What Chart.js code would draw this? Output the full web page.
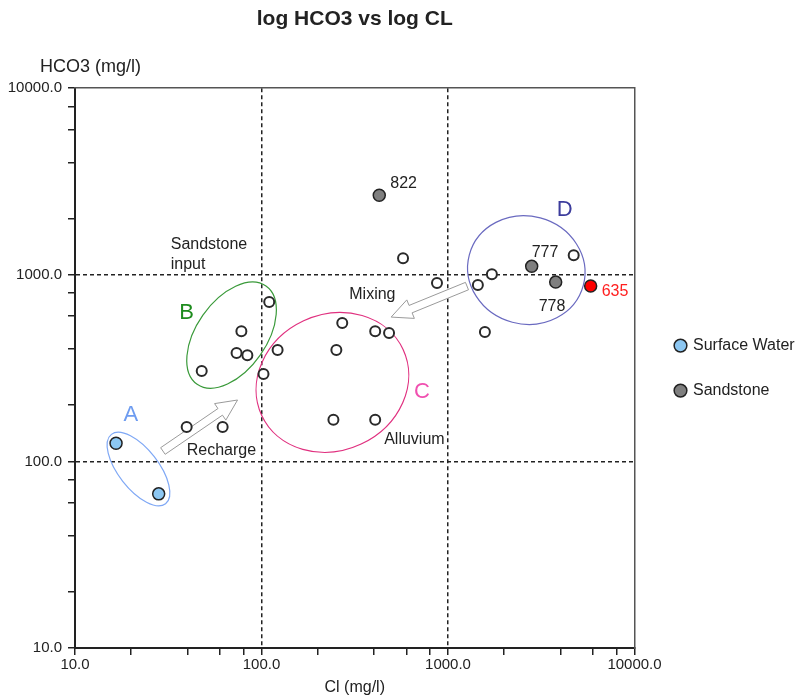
<!DOCTYPE html>
<html><head><meta charset="utf-8">
<script src="https://cdn.jsdelivr.net/npm/chart.js@4.4.1/dist/chart.umd.min.js"></script>
<style>html,body{margin:0;padding:0;background:#fff}#wrap{width:799px;height:697px}</style>
</head><body><div id="wrap"><canvas id="c" width="799" height="697"></canvas></div>
<script>
// ---------- data ----------
const chartTitle = 'log HCO3 vs log CL';
const xAxisTitle = 'Cl (mg/l)';
const yAxisTitle = 'HCO3 (mg/l)';
const axisTicks = [10,20,40,60,80,100,200,400,600,800,1000,2000,4000,6000,8000,10000];
const labelledTicks = [10,100,1000,10000];
const gridTicks = [100,1000];

const surfaceCl = [16.6, 28.1];
const surfaceHCO3 = [125, 67];
const sandstoneCl = [428, 2810, 3780];
const sandstoneHCO3 = [2670, 1110, 914];
const sandstoneIds = ['822', '777', '778'];
const highlightCl = [5820];
const highlightHCO3 = [870];
const highlightIds = ['635'];
const otherCl = [110, 78, 73.5, 84, 47.8, 122, 102.5, 39.7, 61.9, 271, 407, 483, 252, 243, 407, 574, 873, 1446, 1719, 4720, 1577];
const otherHCO3 = [714, 499, 381, 371, 305, 395, 294, 153, 153, 551, 499, 487, 395, 167, 167, 1228, 903, 881, 1008, 1274, 493];

// ---------- annotations (data-space anchors) ----------
const ellipses = [
  {cl: 21.9, hco3: 91,  rx: 44, ry: 20, rot: 52,  color: '#7FA8F5'},
  {cl: 69.1, hco3: 475, rx: 60, ry: 35, rot: -55, color: '#3A9A3A'},
  {cl: 240,  hco3: 265, rx: 78, ry: 68, rot: -25, color: '#E0307F'},
  {cl: 2630, hco3: 1060, rx: 59, ry: 54, rot: 15, color: '#6A6AC0'}
];
const groupLabels = [
  {text: 'A', cl: 19.9, hco3: 177, color: '#6E9CF0'},
  {text: 'B', cl: 39.7, hco3: 623, color: '#1E8C1E'},
  {text: 'C', cl: 726,  hco3: 235, color: '#F050B0'},
  {text: 'D', cl: 4224, hco3: 2221, color: '#3C3C9C'}
];
const notes = [
  {text: 'Sandstone', cl: 32.6, hco3: 1460},
  {text: 'input', cl: 32.6, hco3: 1141},
  {text: 'Mixing', cl: 295.5, hco3: 788},
  {text: 'Recharge', cl: 39.7, hco3: 113.7},
  {text: 'Alluvium', cl: 454.8, hco3: 130.2}
];
const idOffsets = {'822': [11, -12], '777': [0, -14], '778': [-17, 25], '635': [11, 6]};
const arrows = [
  {from: [29.6, 113.7], to: [74.4, 213.3]},
  {from: [1264, 870], to: [495.6, 593.5]}
];

const FONT = "'Liberation Sans', Arial, Helvetica, sans-serif";
Chart.defaults.font.family = FONT;
Chart.defaults.color = '#222';

const pts = (xs, ys) => xs.map((x, i) => ({x: x, y: ys[i]}));

const annotationPlugin = {
  id: 'annot',
  beforeDatasetsDraw(chart) {
    const {ctx, scales: {x, y}} = chart;
    ctx.save();
    ellipses.forEach(e => {
      ctx.beginPath();
      ctx.ellipse(x.getPixelForValue(e.cl), y.getPixelForValue(e.hco3), e.rx, e.ry, e.rot * Math.PI / 180, 0, Math.PI * 2);
      ctx.strokeStyle = e.color;
      ctx.lineWidth = 1.2;
      ctx.stroke();
    });
    arrows.forEach(a => {
      const x0 = x.getPixelForValue(a.from[0]), y0 = y.getPixelForValue(a.from[1]);
      const x1 = x.getPixelForValue(a.to[0]), y1 = y.getPixelForValue(a.to[1]);
      const L = Math.hypot(x1 - x0, y1 - y0);
      const ux = (x1 - x0) / L, uy = (y1 - y0) / L, nx = -uy, ny = ux;
      const sw = 4, hw = 10, hl = 21;
      const bx = x1 - ux * hl, by = y1 - uy * hl;
      const poly = [
        [x0 + nx * sw, y0 + ny * sw], [bx + nx * sw, by + ny * sw], [bx + nx * hw, by + ny * hw],
        [x1, y1],
        [bx - nx * hw, by - ny * hw], [bx - nx * sw, by - ny * sw], [x0 - nx * sw, y0 - ny * sw]
      ];
      ctx.beginPath();
      poly.forEach((p, i) => i ? ctx.lineTo(p[0], p[1]) : ctx.moveTo(p[0], p[1]));
      ctx.closePath();
      ctx.fillStyle = '#fff';
      ctx.fill();
      ctx.strokeStyle = '#9a9a9a';
      ctx.lineWidth = 1;
      ctx.stroke();
    });
    ctx.restore();
  },
  afterDatasetsDraw(chart) {
    const {ctx, scales: {x, y}} = chart;
    ctx.save();
    ctx.textBaseline = 'middle';
    ctx.textAlign = 'center';
    ctx.font = '22px ' + FONT;
    groupLabels.forEach(g => {
      ctx.fillStyle = g.color;
      ctx.fillText(g.text, x.getPixelForValue(g.cl), y.getPixelForValue(g.hco3));
    });
    ctx.textAlign = 'left';
    ctx.font = '16px ' + FONT;
    ctx.fillStyle = '#222';
    notes.forEach(n => ctx.fillText(n.text, x.getPixelForValue(n.cl), y.getPixelForValue(n.hco3)));
    const idLabel = (cls, hs, ids, color) => ids.forEach((id, i) => {
      const o = idOffsets[id];
      ctx.fillStyle = color;
      ctx.fillText(id, x.getPixelForValue(cls[i]) + o[0], y.getPixelForValue(hs[i]) + o[1]);
    });
    idLabel(sandstoneCl, sandstoneHCO3, sandstoneIds, '#222');
    idLabel(highlightCl, highlightHCO3, highlightIds, '#FF2020');
    ctx.restore();
  },
  afterDraw(chart) {
    const {ctx} = chart;
    ctx.save();
    ctx.font = '18px ' + FONT;
    ctx.fillStyle = '#222';
    ctx.textBaseline = 'middle';
    ctx.textAlign = 'left';
    ctx.fillText(yAxisTitle, 40, 67);
    ctx.restore();
  }
};

const tickLabel = v => labelledTicks.includes(v) ? Number(v).toFixed(1) : '';
const gridColor = c => (c.tick && gridTicks.includes(c.tick.value)) ? '#222' : 'rgba(0,0,0,0)';

const mainAxis = (extra, pad) => Object.assign({
  type: 'logarithmic', min: 10, max: 10000,
  afterBuildTicks: s => { s.ticks = axisTicks.map(v => ({value: v})); },
  ticks: {callback: tickLabel, autoSkip: false, maxRotation: 0, font: {size: 15}, color: '#222', padding: pad},
  grid: {color: gridColor, lineWidth: 1.5, tickColor: '#222', tickLength: 7, tickWidth: 1.5, tickBorderDash: []},
  border: {display: true, color: '#222', width: 2, dash: [4, 3]}
}, extra);

const frameAxis = (pos, fit) => ({
  type: 'logarithmic', min: 10, max: 10000, position: pos, display: true,
  ticks: {display: false},
  grid: {drawOnChartArea: false, drawTicks: false},
  border: {display: true, color: '#555', width: 1.5},
  afterFit: fit
});

new Chart(document.getElementById('c'), {
  type: 'scatter',
  data: {
    datasets: [
      {label: 'Alluvium', data: pts(otherCl, otherHCO3), pointRadius: 5, pointHoverRadius: 5,
        backgroundColor: '#fff', borderColor: '#2a2a2a', borderWidth: 2},
      {label: 'Surface Water', data: pts(surfaceCl, surfaceHCO3), pointRadius: 6, pointHoverRadius: 6,
        backgroundColor: '#8CC7F2', borderColor: '#222', borderWidth: 1.5},
      {label: 'Sandstone', data: pts(sandstoneCl, sandstoneHCO3), pointRadius: 6, pointHoverRadius: 6,
        backgroundColor: '#7F7F7F', borderColor: '#222', borderWidth: 1.5},
      {label: '635', data: pts(highlightCl, highlightHCO3), pointRadius: 6, pointHoverRadius: 6,
        backgroundColor: '#FF0000', borderColor: '#222', borderWidth: 1.5}
    ]
  },
  options: {
    responsive: false,
    animation: false,
    devicePixelRatio: 1,
    layout: {padding: {left: 0, right: 0, top: 0, bottom: 0}},
    scales: {
      x: mainAxis({position: 'bottom',
        title: {display: true, text: xAxisTitle, font: {size: 16}, color: '#222', padding: {top: 2, bottom: 0}},
        afterFit: s => { s.height = 49; }}, 1),
      y: mainAxis({position: 'left', afterFit: s => { s.width = 75; }}, 6),
      x2: frameAxis('top', s => { s.height = 0; }),
      y2: frameAxis('right', s => { s.width = 12.5; })
    },
    plugins: {
      title: {display: true, text: chartTitle, fullSize: false, font: {size: 21, weight: 'bold'}, color: '#222',
        padding: {top: 7, bottom: 56}},
      legend: {display: true, position: 'right', align: 'center', fullSize: false, maxWidth: 152,
        labels: {usePointStyle: true, boxWidth: 9, boxHeight: 9, padding: 29, font: {size: 16}, color: '#222',
          filter: item => item.text === 'Surface Water' || item.text === 'Sandstone'}},
      tooltip: {enabled: false}
    }
  },
  plugins: [annotationPlugin]
});
</script>
</body></html>
